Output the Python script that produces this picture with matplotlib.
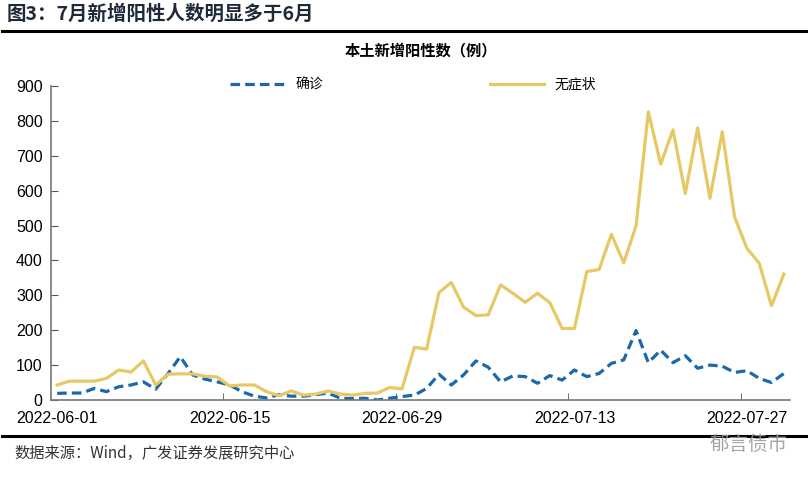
import matplotlib.pyplot as plt
import numpy as np
from matplotlib.lines import Line2D

plt.rcParams['font.family'] = ['Noto Sans CJK SC', 'DejaVu Sans']

# Daily local new cases, 2022-06-01 .. 2022-07-30
dates = np.arange('2022-06-01', '2022-07-31', dtype='datetime64[D]')
confirmed = [19, 20, 20, 33, 24, 38, 43, 52, 31, 76,
             124, 72, 60, 52, 43, 24, 11, 6, 15, 11,
             11, 15, 20, 5, 4, 5, 0, 5, 10, 14,
             33, 74, 43, 72, 112, 94, 52, 69, 67, 48,
             70, 57, 86, 67, 76, 105, 115, 199, 107, 143,
             107, 127, 91, 100, 97, 79, 84, 62, 50, 76]
asymptomatic = [43, 54, 54, 54, 62, 86, 80, 112, 43, 74,
                75, 75, 68, 66, 40, 43, 43, 24, 12, 26,
                14, 17, 26, 17, 14, 19, 20, 36, 32, 151,
                146, 308, 337, 266, 242, 244, 330, 306, 280, 306,
                279, 205, 205, 368, 374, 475, 393, 499, 826, 676,
                774, 592, 780, 578, 769, 525, 435, 392, 270, 361]

x = np.arange(len(dates))
tick_idx = x[::14]
tick_labels = [str(d) for d in dates[::14]]

fig = plt.figure(figsize=(8.08, 4.78), dpi=100)
ax = fig.add_axes([51/808, 1 - 400/478, 739/808, 314/478])

ax.plot(x, confirmed, color='#1b69aa', lw=2.3, ls=(0, (3, 1.6)), label='确诊')
ax.plot(x, asymptomatic, color='#e6c864', lw=2.3, label='无症状')

ax.set_xlim(-0.5, 59.5)
ax.set_ylim(0, 900)
ax.set_yticks(range(0, 901, 100))
ax.set_xticks(tick_idx)
ax.set_xticklabels(tick_labels)
ax.set_xticks(tick_idx[1:] - 0.5, minor=True)
ax.tick_params(axis='x', which='major', length=0, pad=8)
ax.tick_params(axis='x', which='minor', direction='in', length=5, color='#555555')
ax.tick_params(axis='y', direction='in', length=5, color='#555555', pad=6)
for lab in ax.get_xticklabels() + ax.get_yticklabels():
    lab.set_fontfamily('Liberation Sans')
    lab.set_fontsize(11.5)
for s in ['top', 'right']:
    ax.spines[s].set_visible(False)
for s in ['left', 'bottom']:
    ax.spines[s].set_color('#777777')
    ax.spines[s].set_linewidth(1.2)

ax.legend(loc='lower center', bbox_to_anchor=(0.49, 0.965), ncol=2, frameon=False,
          fontsize=10, handlelength=3.9, columnspacing=12, borderaxespad=0)

ax.set_title('本土新增阳性数（例）', fontsize=11, fontweight='bold', pad=22)

# Header, rules and source note
fig.text(0.008, 1 - 14/478, '图3：7月新增阳性人数明显多于6月', fontsize=14,
         fontweight='heavy', color='#1e2a38', va='center')
fig.add_artist(Line2D([0.003, 0.997], [1 - 31/478] * 2, color='black', lw=2.2))
fig.add_artist(Line2D([0.003, 0.997], [1 - 436/478] * 2, color='black', lw=2.2))
fig.text(0.018, 1 - 453/478, '数据来源：Wind，广发证券发展研究中心', fontsize=11,
         color='#333333', va='center')
fig.text(0.975, 1 - 444/478, '郁言债市', fontsize=14, color='#9a9a9a',
         va='center', ha='right', alpha=0.9)

plt.savefig('out.png', dpi=100)
